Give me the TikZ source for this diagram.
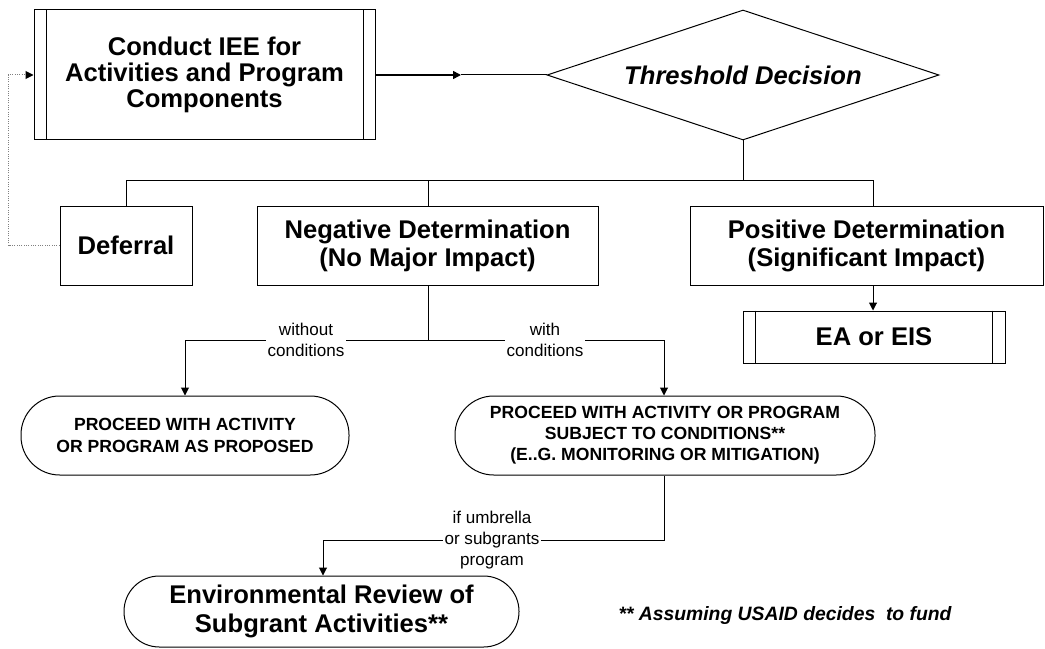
\documentclass[tikz,border=0pt]{standalone}
\usepackage{fontspec}
\setmainfont{Liberation Sans}
\usetikzlibrary{arrows.meta,shapes.geometric,calc}
\begin{document}
\begin{tikzpicture}[x=0.75pt,y=-0.75pt,
  line width=0.75pt,
  big/.style={font=\fontsize{19.2}{#1}\selectfont\bfseries, align=center},
  big/.default=20.5pt,
  box/.style={draw, rectangle, inner sep=0pt, align=center},
  term/.style={draw, rectangle, rounded corners=#1, inner sep=0pt, align=center},
  lbl/.style={fill=white, inner sep=1.5pt, align=center, font=\fontsize{12.8}{15.5}\selectfont},
  arr/.style={-{Triangle[length=6pt,width=6pt,black]}},
  tt/.style={font=\fontsize{13.2}{#1}\selectfont\bfseries}
]
\useasboundingbox (0,0) rectangle (1045,649);

% main process box
\node[box, big=19.5pt, minimum width=255.75pt, minimum height=97.5pt] (iee) at (204.5,75) {Conduct IEE for\\Activities and Program\\Components};
\draw ([xshift=10pt]iee.north west) -- ([xshift=10pt]iee.south west);
\draw ([xshift=-9pt]iee.north east) -- ([xshift=-9pt]iee.south east);

% decision
\node[draw, diamond, shape aspect=3, minimum width=294pt, minimum height=97.5pt, inner sep=0pt,
      font=\fontsize{19.2}{21}\selectfont\bfseries\itshape] (dec) at (743,75) {Threshold Decision};

\coordinate (mid) at (461,75);
\draw[arr, line width=1.2pt] (iee.east) -- (mid);
\draw (mid) -- (dec.west);

% outcomes
\node[box, big, minimum width=99pt, minimum height=59.25pt] (def) at (126,245.5) {Deferral};
\node[box, big=21pt, minimum width=255.75pt, minimum height=59.25pt] (neg) at (427.5,245.5) {Negative Determination\\(No Major Impact)};
\node[box, big=21pt, minimum width=264.75pt, minimum height=59.25pt] (pos) at (866.5,245.5) {Positive Determination\\(Significant Impact)};

\coordinate (j0) at (743,180);
\coordinate (jL) at (126,180);
\coordinate (jM) at (428,180);
\coordinate (jR) at (873,180);
\draw (dec.south) -- (j0);
\draw (jL) -- (jR);
\draw (jL) -- (def.north);
\draw (jM) -- (jM |- neg.north);
\draw (jR) -- (jR |- pos.north);

% feedback
\coordinate (fb) at (8,150);
\draw[densely dotted, gray, arr] (def.west) -- (def.west -| fb) |- (iee.west);

% EA or EIS
\node[box, big, minimum width=196.5pt, minimum height=39pt] (ea) at (874,337) {EA or EIS};
\draw ([xshift=9.75pt]ea.north west) -- ([xshift=9.75pt]ea.south west);
\draw ([xshift=-9.75pt]ea.north east) -- ([xshift=-9.75pt]ea.south east);
\draw[arr] (jR |- pos.south) -- (jR |- ea.north);

% terminals
\node[term=29pt, tt=16.5pt, minimum width=246pt, minimum height=59.25pt] (pl) at (185,435.5) {PROCEED WITH ACTIVITY\\OR PROGRAM AS PROPOSED};
\node[term=29pt, tt=15.8pt, minimum width=315pt, minimum height=59.25pt] (pr) at (665,435.5) {PROCEED WITH ACTIVITY OR PROGRAM\\SUBJECT TO CONDITIONS**\\(E..G. MONITORING OR MITIGATION)};
\node[term=26.5pt, big=22pt, minimum width=296.25pt, minimum height=53.25pt] (env) at (321.5,611.5) {Environmental Review of\\Subgrant Activities**};

% negative branches
\coordinate (k0) at (428,340);
\coordinate (kL) at (185,340);
\coordinate (kR) at (664,340);
\draw (k0 |- neg.south) -- (k0);
\draw[arr] (k0) -- (kL) -- (kL |- pl.north);
\draw[arr] (k0) -- (kR) -- (kR |- pr.north);
\node[lbl] (l1) at (306,340) {without\\conditions};
\node[lbl] (l2) at (545,340) {with\\conditions};

% umbrella branch
\coordinate (m0) at (664,540);
\coordinate (mL) at (323,540);
\draw[arr] (m0 |- pr.south) -- (m0) -- (mL) -- (mL |- env.north);
\node[lbl] (l3) at (492,540) {if umbrella\\or subgrants\\program};

% footnote
\node[anchor=west, inner sep=0pt, font=\fontsize{14.5}{16}\selectfont\bfseries\itshape] (note) at (618,615) {** Assuming USAID decides\ \ to fund};
\end{tikzpicture}
\end{document}
